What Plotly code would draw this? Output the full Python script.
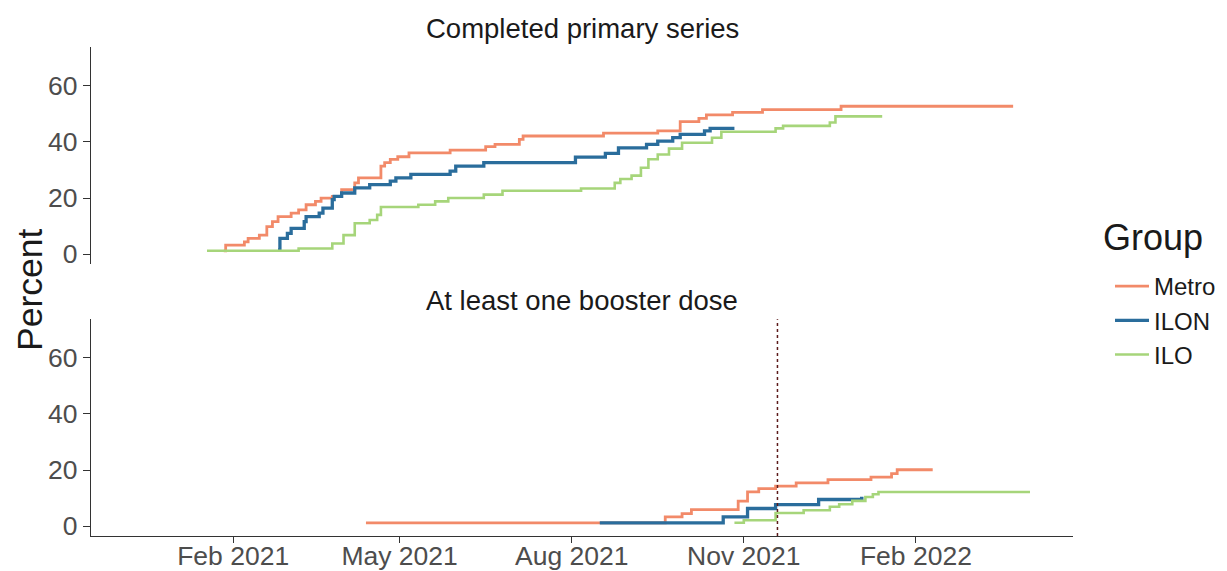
import plotly.graph_objects as go

# ---------------- data ----------------
groups = ["Metro", "ILON", "ILO"]
group_colors = ["#F28A69", "#2A6D9C", "#A6D57A"]
group_widths = [2.8, 3.3, 2.6]
panel_titles = ["Completed primary series", "At least one booster dose"]

metro_primary_dates = ["2021-01-27", "2021-01-28", "2021-02-07", "2021-02-09", "2021-02-15", "2021-02-19",
                       "2021-02-22", "2021-02-25", "2021-03-04", "2021-03-08", "2021-03-12", "2021-03-17",
                       "2021-03-20", "2021-03-26", "2021-03-31", "2021-04-07", "2021-04-09", "2021-04-21",
                       "2021-04-23", "2021-04-26", "2021-04-30", "2021-05-06", "2021-05-28", "2021-06-16",
                       "2021-06-21", "2021-07-04", "2021-07-06", "2021-08-18", "2021-09-16", "2021-09-28",
                       "2021-10-08", "2021-10-12", "2021-10-26", "2021-11-11", "2021-12-23", "2022-03-25"]
metro_primary_pct = [1.2, 3.2, 4.4, 5.6, 6.8, 9.8, 11.6, 13.4, 14.6, 15.8, 17.6, 18.8, 20.0, 20.6, 23.0,
                     25.4, 27.2, 31.4, 32.6, 33.8, 34.7, 36.1, 37.1, 38.3, 39.1, 40.9, 42.1, 43.1, 43.9,
                     47.2, 48.4, 49.6, 50.5, 51.5, 52.7, 52.7]

ilon_primary_dates = ["2021-02-25", "2021-02-26", "2021-03-02", "2021-03-04", "2021-03-11", "2021-03-12",
                      "2021-03-19", "2021-03-21", "2021-03-26", "2021-03-27", "2021-03-31", "2021-04-07",
                      "2021-04-15", "2021-04-26", "2021-04-29", "2021-05-07", "2021-05-28", "2021-05-31",
                      "2021-06-15", "2021-08-03", "2021-08-19", "2021-08-26", "2021-09-10", "2021-09-16",
                      "2021-09-24", "2021-09-28", "2021-10-11", "2021-10-14", "2021-10-27"]
ilon_primary_pct = [1.5, 5.6, 7.4, 9.2, 11.6, 13.4, 14.6, 16.4, 19.4, 20.6, 21.8, 23.6, 24.8, 26.0, 27.2,
                    28.4, 29.6, 31.4, 32.6, 34.6, 35.9, 37.9, 39.1, 40.3, 41.5, 42.7, 43.9, 44.8, 44.8]

ilo_primary_dates = ["2021-01-18", "2021-03-08", "2021-03-26", "2021-04-01", "2021-04-07", "2021-04-15",
                     "2021-04-19", "2021-04-21", "2021-05-11", "2021-05-20", "2021-05-27", "2021-06-15",
                     "2021-06-25", "2021-08-06", "2021-08-24", "2021-08-27", "2021-09-02", "2021-09-07",
                     "2021-09-11", "2021-09-16", "2021-09-22", "2021-09-29", "2021-10-15", "2021-10-20",
                     "2021-11-18", "2021-11-22", "2021-12-17", "2021-12-20", "2022-01-14"]
ilo_primary_pct = [1.2, 2.0, 3.8, 6.8, 11.0, 12.2, 14.0, 16.8, 17.6, 18.8, 20.0, 21.2, 22.6, 23.4, 25.4,
                   26.8, 28.0, 30.8, 33.8, 35.5, 37.6, 39.7, 41.5, 43.6, 44.8, 45.7, 46.9, 49.1, 49.1]

metro_booster_dates = ["2021-04-13", "2021-09-20", "2021-09-29", "2021-10-04", "2021-10-29", "2021-11-03",
                       "2021-11-09", "2021-11-18", "2021-11-29", "2021-12-16", "2022-01-08", "2022-01-19",
                       "2022-01-22", "2022-02-10"]
metro_booster_pct = [1.2, 3.3, 4.5, 5.9, 8.9, 12.2, 13.4, 14.3, 15.4, 16.6, 17.5, 18.7, 20.1, 20.1]

ilon_booster_dates = ["2021-08-16", "2021-10-21", "2021-11-03", "2021-11-18", "2021-12-11", "2022-01-03",
                      "2022-01-04"]
ilon_booster_pct = [1.2, 3.3, 6.3, 7.7, 9.5, 9.9, 9.9]

ilo_booster_dates = ["2021-10-27", "2021-11-01", "2021-11-18", "2021-12-03", "2021-12-17", "2021-12-22",
                     "2021-12-29", "2022-01-05", "2022-01-09", "2022-01-12", "2022-04-03"]
ilo_booster_pct = [1.2, 2.1, 4.7, 5.7, 6.9, 7.8, 9.0, 10.4, 11.4, 12.2, 12.2]

booster_marker_date = "2021-11-19"

x_tick_dates = ["2021-02-01", "2021-05-01", "2021-08-01", "2021-11-01", "2022-02-01"]
x_tick_labels = ["Feb 2021", "May 2021", "Aug 2021", "Nov 2021", "Feb 2022"]
y_ticks = [0, 20, 40, 60]
x_range = ["2020-11-17", "2022-04-26"]
y_range = [-3.5, 73.7]

primary = [(metro_primary_dates, metro_primary_pct),
           (ilon_primary_dates, ilon_primary_pct),
           (ilo_primary_dates, ilo_primary_pct)]
booster = [(metro_booster_dates, metro_booster_pct),
           (ilon_booster_dates, ilon_booster_pct),
           (ilo_booster_dates, ilo_booster_pct)]

# ---------------- figure ----------------
FONT = "Liberation Sans, Arial, Helvetica, sans-serif"
W, H = 1227, 571
fig = go.Figure()

for i, g in enumerate(groups):
    d, v = primary[i]
    fig.add_trace(go.Scatter(x=d, y=v, mode="lines", name=g, legendgroup=g,
                             line=dict(color=group_colors[i], width=group_widths[i], shape="hv"),
                             xaxis="x", yaxis="y", showlegend=True))
for i, g in enumerate(groups):
    d, v = booster[i]
    fig.add_trace(go.Scatter(x=d, y=v, mode="lines", name=g, legendgroup=g,
                             line=dict(color=group_colors[i], width=group_widths[i], shape="hv"),
                             xaxis="x2", yaxis="y2", showlegend=False))

xdom = [91 / W, 1073 / W]
ycommon = dict(range=y_range, tickvals=y_ticks, showgrid=False, zeroline=False, automargin=False,
               showline=True, linecolor="#333333", linewidth=1.3,
               ticks="outside", ticklen=7, tickwidth=1.2, tickcolor="#333333",
               tickfont=dict(family=FONT, size=26.5, color="#4D4D4D"))

fig.update_layout(
    width=W, height=H, autosize=False,
    margin=dict(l=0, r=0, t=0, b=0, pad=0),
    paper_bgcolor="white", plot_bgcolor="white",
    font=dict(family=FONT, color="#1A1A1A"),
    xaxis=dict(domain=xdom, anchor="y", range=x_range, type="date", showgrid=False, automargin=False,
               zeroline=False, showline=False, showticklabels=False, ticks="", matches="x2"),
    yaxis=dict(domain=[1 - 264 / H, 1 - 47.3 / H], anchor="x", **ycommon),
    xaxis2=dict(domain=xdom, anchor="y2", range=x_range, type="date", showgrid=False, automargin=False,
                zeroline=False, showline=True, linecolor="#333333", linewidth=1.3,
                tickvals=x_tick_dates, ticktext=x_tick_labels,
                ticks="outside", ticklen=6, tickwidth=1.2, tickcolor="#333333",
                ticklabelstandoff=-10,
                tickfont=dict(family=FONT, size=26.5, color="#4D4D4D")),
    yaxis2=dict(domain=[1 - 536 / H, 1 - 319.3 / H], anchor="x2", **ycommon),
    legend=dict(x=1110 / W, y=1 - 264 / H, xanchor="left", yanchor="top",
                font=dict(family=FONT, size=24, color="#1A1A1A"),
                itemwidth=34, bgcolor="rgba(0,0,0,0)", tracegroupgap=0),
    annotations=[
        dict(text=panel_titles[0], xref="paper", yref="paper", x=sum(xdom) / 2, y=1 - 29 / H,
             xanchor="center", yanchor="middle", showarrow=False,
             font=dict(family=FONT, size=27.5, color="#1A1A1A")),
        dict(text=panel_titles[1], xref="paper", yref="paper", x=sum(xdom) / 2, y=1 - 300 / H,
             xanchor="center", yanchor="middle", showarrow=False,
             font=dict(family=FONT, size=27.5, color="#1A1A1A")),
        dict(text="Percent", xref="paper", yref="paper", x=30 / W, y=1 - 290 / H,
             xanchor="center", yanchor="middle", textangle=-90, showarrow=False,
             font=dict(family=FONT, size=35.5, color="#1A1A1A")),
        dict(text="Group", xref="paper", yref="paper", x=1101 / W, y=1 - 238 / H,
             xanchor="left", yanchor="middle", showarrow=False,
             font=dict(family=FONT, size=36, color="#1A1A1A")),
    ],
    shapes=[
        dict(type="line", xref="x2", yref="y2 domain", x0=booster_marker_date, x1=booster_marker_date,
             y0=0, y1=1, line=dict(color="#5B1A1A", width=1.5, dash="dot")),
    ],
)

fig.write_html("out.html", config={"displayModeBar": False},
               post_script="document.body.style.margin='0';document.body.style.overflow='hidden';")
